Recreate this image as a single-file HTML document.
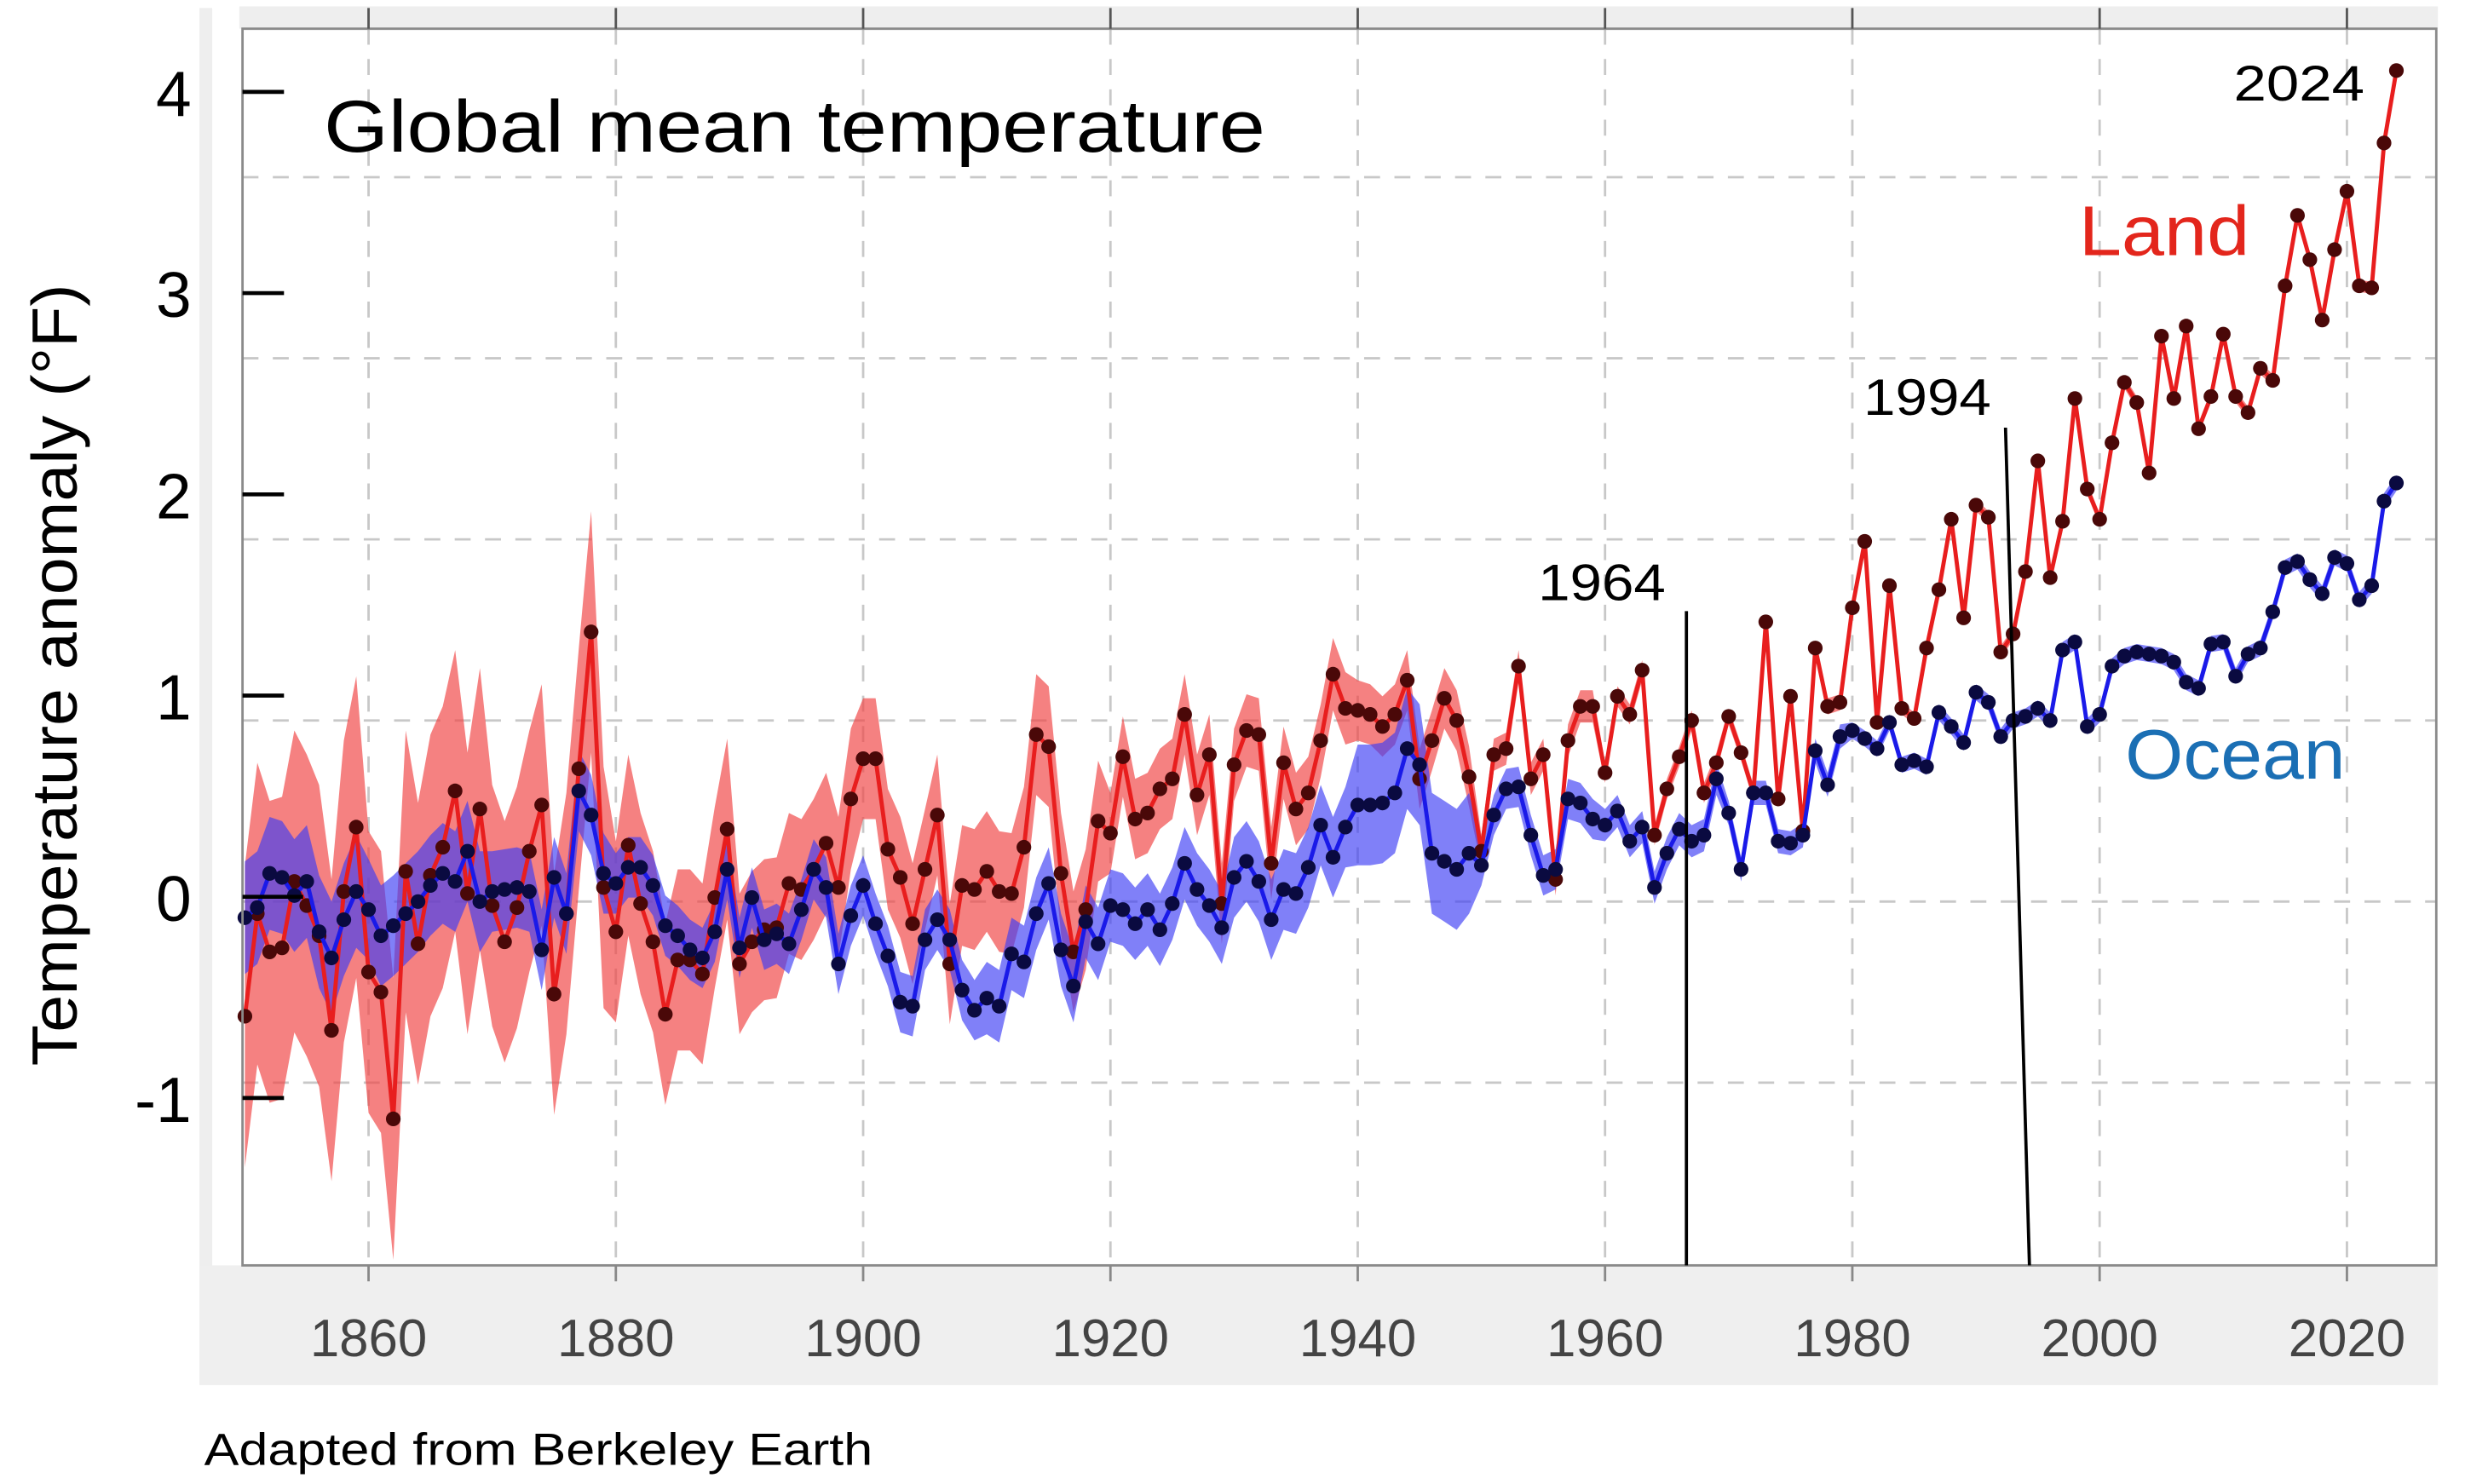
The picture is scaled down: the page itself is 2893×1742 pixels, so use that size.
<!DOCTYPE html>
<html><head><meta charset="utf-8"><title>Global mean temperature</title>
<style>
html,body{margin:0;padding:0;background:#fff;}
svg{display:block;}
text{font-family:"Liberation Sans",sans-serif;}
</style></head>
<body>
<svg id="chart" xmlns="http://www.w3.org/2000/svg" width="2893" height="1742" viewBox="0 0 1545 930" preserveAspectRatio="none">
  <rect x="0" y="0" width="1545" height="930" fill="#ffffff"/>
  <rect x="125" y="5" width="8" height="795" fill="#eeeeee"/>
  <rect x="150" y="4" width="1378" height="14" fill="#eeeeee"/>
  <rect x="125" y="793" width="1403" height="75" fill="#efefef"/>
  <g id="grid"></g>
  <g id="bands"></g>
  <g id="series"></g>
  <rect x="152" y="18" width="1375" height="775" fill="none" stroke="#8a8a8a" stroke-width="1.5"/>
  <g id="xticks"></g>
  <g id="yticks"></g>
  <text transform="translate(48,668) rotate(-90)" font-size="40" textLength="490" lengthAdjust="spacingAndGlyphs" fill="#000">Temperature anomaly (°F)</text>
  <text x="203" y="95" font-size="46" textLength="590" lengthAdjust="spacingAndGlyphs" fill="#000">Global mean temperature</text>
  <text x="1400" y="63" font-size="31" textLength="82" lengthAdjust="spacingAndGlyphs" fill="#000">2024</text>
  <text x="1303" y="160" font-size="44" textLength="107" lengthAdjust="spacingAndGlyphs" fill="#e3261c">Land</text>
  <text x="1332" y="488" font-size="44" textLength="138" lengthAdjust="spacingAndGlyphs" fill="#1b6fb4">Ocean</text>
  <text x="1168" y="260" font-size="32" textLength="80" lengthAdjust="spacingAndGlyphs" fill="#000">1994</text>
  <line x1="1257" y1="268" x2="1272" y2="793" stroke="#000" stroke-width="2"/>
  <text x="964" y="376" font-size="32" textLength="80" lengthAdjust="spacingAndGlyphs" fill="#000">1964</text>
  <line x1="1057" y1="383" x2="1057" y2="793" stroke="#000" stroke-width="2"/>
  <text x="128" y="918" font-size="28" textLength="419" lengthAdjust="spacingAndGlyphs" fill="#000">Adapted from Berkeley Earth</text>
</svg>
<script>
const firstYear = 1850;
const land = [
-0.57,-0.06,-0.25,-0.23,0.1,-0.02,-0.17,-0.64,0.05,0.37,
-0.35,-0.45,-1.08,0.15,-0.21,0.13,0.27,0.55,0.04,0.46,
-0.02,-0.2,-0.03,0.25,0.48,-0.46,-0.06,0.66,1.34,0.07,
-0.15,0.28,-0.01,-0.2,-0.56,-0.29,-0.29,-0.36,0.02,0.36,
-0.31,-0.2,-0.14,-0.13,0.09,0.06,0.16,0.29,0.07,0.51,
0.71,0.71,0.26,0.12,-0.11,0.16,0.43,-0.31,0.08,0.06,
0.15,0.05,0.04,0.27,0.83,0.77,0.14,-0.25,-0.04,0.4,
0.34,0.72,0.41,0.44,0.56,0.61,0.93,0.53,0.73,-0.01,
0.68,0.85,0.83,0.19,0.69,0.46,0.54,0.8,1.13,0.96,
0.95,0.93,0.87,0.93,1.1,0.61,0.8,1.01,0.9,0.62,
0.25,0.73,0.76,1.17,0.61,0.73,0.11,0.8,0.97,0.97,
0.64,1.02,0.93,1.15,0.33,0.56,0.72,0.9,0.54,0.69,
0.92,0.74,0.54,1.39,0.51,1.02,0.35,1.26,0.97,0.99,
1.46,1.79,0.89,1.57,0.96,0.91,1.26,1.55,1.9,1.41,
1.97,1.91,1.24,1.33,1.64,2.19,1.61,1.89,2.5,2.05,
1.9,2.28,2.58,2.48,2.13,2.81,2.5,2.86,2.35,2.51,
2.82,2.51,2.43,2.65,2.59,3.06,3.41,3.19,2.89,3.24,
3.53,3.06,3.05,3.77,4.13];
const ocean = [
-0.08,-0.03,0.14,0.12,0.03,0.1,-0.15,-0.28,-0.09,0.05,
-0.04,-0.17,-0.12,-0.06,0,0.08,0.14,0.1,0.25,0,
0.05,0.06,0.07,0.05,-0.24,0.12,-0.06,0.55,0.43,0.14,
0.09,0.17,0.17,0.08,-0.12,-0.17,-0.24,-0.28,-0.15,0.16,
-0.23,0.02,-0.19,-0.16,-0.21,-0.04,0.16,0.07,-0.31,-0.07,
0.08,-0.11,-0.27,-0.5,-0.52,-0.19,-0.09,-0.19,-0.44,-0.54,
-0.48,-0.52,-0.26,-0.3,-0.06,0.09,-0.24,-0.42,-0.1,-0.21,
-0.02,-0.04,-0.11,-0.04,-0.14,-0.01,0.19,0.06,-0.02,-0.13,
0.12,0.2,0.1,-0.09,0.06,0.04,0.17,0.38,0.22,0.37,
0.48,0.48,0.49,0.54,0.76,0.68,0.24,0.2,0.16,0.24,
0.18,0.43,0.56,0.57,0.33,0.13,0.16,0.51,0.49,0.41,
0.38,0.45,0.3,0.37,0.07,0.24,0.36,0.3,0.33,0.61,
0.44,0.16,0.54,0.54,0.3,0.29,0.33,0.75,0.58,0.82,
0.85,0.81,0.76,0.89,0.68,0.7,0.67,0.94,0.87,0.79,
1.04,0.99,0.82,0.9,0.92,0.96,0.9,1.25,1.29,0.87,
0.93,1.17,1.22,1.24,1.23,1.22,1.19,1.09,1.06,1.28,
1.29,1.12,1.23,1.26,1.44,1.66,1.69,1.6,1.53,1.71,
1.68,1.5,1.57,1.99,2.08];
// uncertainty half-widths per decade (1850s ... 2020s)
const landErrByDecade = [0.75,0.7,0.6,0.45,0.35,0.3,0.3,0.2,0.18,0.15,0.08,0.05,0.04,0.03,0.03,0.03,0.03,0.03];
const oceanErrByDecade = [0.28,0.25,0.2,0.15,0.15,0.15,0.18,0.18,0.2,0.3,0.1,0.08,0.06,0.04,0.04,0.04,0.04,0.04];
const xTickYears = [1860,1880,1900,1920,1940,1960,1980,2000,2020];
const yGridValues = [-0.9,0,0.9,1.8,2.7,3.6];
const yTickLabels = ["-1","0","1","2","3","4"];
const yTickValues = [-1,0,1,2,3,4];

const NS = "http://www.w3.org/2000/svg";
function X(year){ return 153.5 + (year-1850)*7.75; }
function Y(v){ return 565 - v*126.1; }
function mk(tag, attrs, parent){ const e=document.createElementNS(NS,tag); for(const k in attrs) e.setAttribute(k,attrs[k]); parent.appendChild(e); return e; }

const grid = document.getElementById('grid');
xTickYears.forEach(yr=>{
  const l = mk('line',{x1:X(yr),x2:X(yr),y1:18,y2:793,stroke:'#c8c8c8','stroke-width':1.5,'stroke-dasharray':'10 9'},grid);
  
  
});
yGridValues.forEach(v=>{
  const l = mk('line',{x1:152,x2:1527,y1:Y(v),y2:Y(v),stroke:'#c8c8c8','stroke-width':1.5,'stroke-dasharray':'10 9'},grid);
  
  
});

function bandPath(vals, errs){
  let up='', lo='';
  vals.forEach((v,i)=>{ const yr=firstYear+i; const e=errs[Math.floor((yr-1850)/10)];
    up += (i?'L':'M')+X(yr).toFixed(1)+','+Y(v+e).toFixed(1); });
  for(let i=vals.length-1;i>=0;i--){ const yr=firstYear+i; const e=errs[Math.floor((yr-1850)/10)];
    lo += 'L'+X(yr).toFixed(1)+','+Y(vals[i]-e).toFixed(1); }
  return up+lo+'Z';
}
const bands = document.getElementById('bands');
const lb = mk('path',{d:bandPath(land,landErrByDecade),fill:'rgb(240,70,70)','fill-opacity':0.68},bands);


const ob = mk('path',{d:bandPath(ocean,oceanErrByDecade),fill:'rgb(60,60,245)','fill-opacity':0.65},bands);



const series = document.getElementById('series');
function drawSeries(vals, lineColor, dotColor, name){
  const pts = vals.map((v,i)=>X(firstYear+i).toFixed(1)+','+Y(v).toFixed(1)).join(' ');
  const pl = mk('polyline',{points:pts,fill:'none',stroke:lineColor,'stroke-width':2.6,'stroke-linejoin':'round'},series);
  
  
  vals.forEach((v,i)=>{
    const c = mk('circle',{cx:X(firstYear+i),cy:Y(v),r:4.6,fill:dotColor},series);
    
    
  });
}
drawSeries(land,'#e81e1e','#4a0808','land');
drawSeries(ocean,'#1a1ae8','#0a0a40','ocean');

const xt = document.getElementById('xticks');
xTickYears.forEach(yr=>{
  const t = mk('line',{x1:X(yr),x2:X(yr),y1:5,y2:18,stroke:'#555','stroke-width':1.5},xt);
  
  
  const b = mk('line',{x1:X(yr),x2:X(yr),y1:793,y2:803,stroke:'#888','stroke-width':1.5},xt);
  
  
  const lab = mk('text',{x:X(yr),y:850,'font-size':33,'text-anchor':'middle',fill:'#444','font-family':'"DejaVu Sans",sans-serif'},xt);
  lab.textContent = String(yr);
  
  
});

const yt = document.getElementById('yticks');
yTickValues.forEach((v,i)=>{
  const t = mk('line',{x1:152,x2:(v===0?190:178),y1:Y(v)-3,y2:Y(v)-3,stroke:'#000','stroke-width':2.5},yt);
  
  
  const lab = mk('text',{x:120,y:Y(v)+12,'font-size':40,'text-anchor':'end',fill:'#000'},yt);
  lab.textContent = yTickLabels[i];
  
  
});
</script>
</body></html>
